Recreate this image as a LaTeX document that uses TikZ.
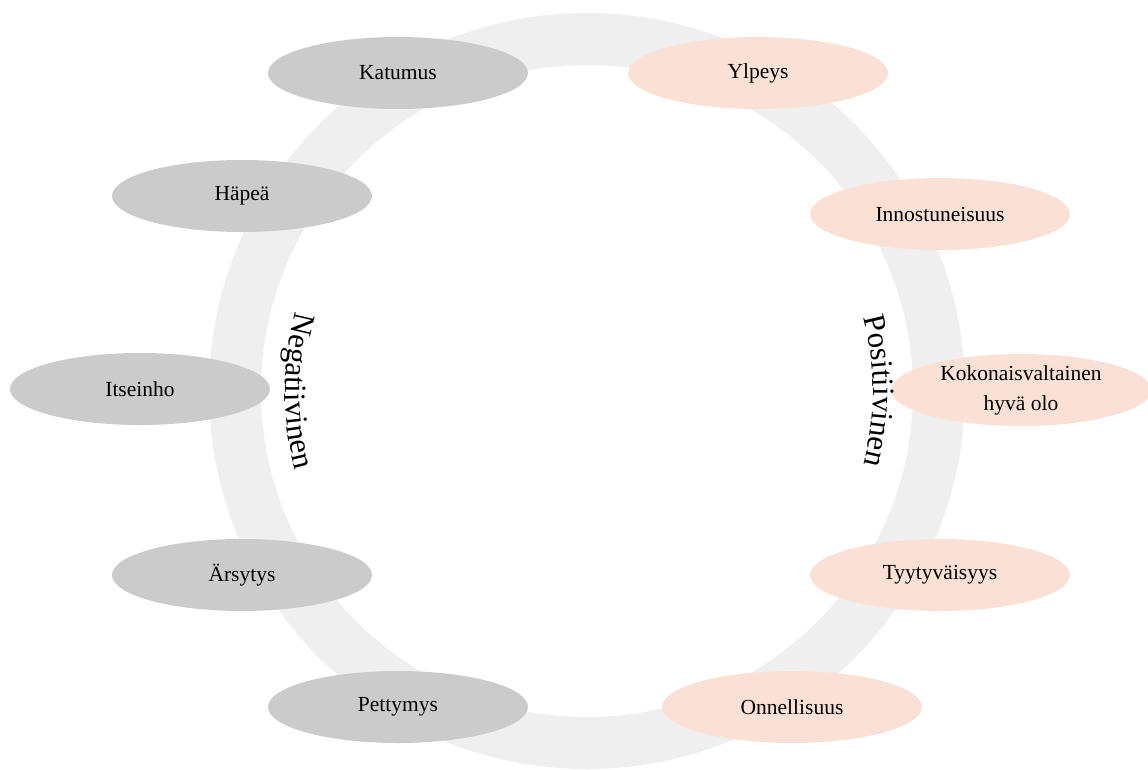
\documentclass[tikz,border=0pt]{standalone}
\usepackage{fontspec}
\setmainfont{Liberation Serif}
\usetikzlibrary{shapes.geometric,decorations.text}
\definecolor{ringgray}{HTML}{EFEFEF}
\definecolor{neggray}{HTML}{CBCBCB}
\definecolor{pospeach}{HTML}{FBE1D5}
\begin{document}
\begin{tikzpicture}[x=1pt, y=1pt,
  feeling/.style={ellipse, minimum width=260pt, minimum height=72pt, inner sep=0pt, align=center, font=\fontsize{21.5}{30}\selectfont},
  negfeel/.style={feeling, fill=neggray},
  posfeel/.style={feeling, fill=pospeach}]
\useasboundingbox (-587,-378) rectangle (561,391);
\draw[ringgray, line width=52pt] (0,0) circle (352);
% negative side
\node[negfeel] (katumus) at (-189,318) {Katumus};
\node[negfeel] (hapea) at (-345,195) {Häpeä};
\node[negfeel] (itseinho) at (-447,2) {Itseinho};
\node[negfeel] (arsytys) at (-345,-184) {Ärsytys};
\node[negfeel] (pettymys) at (-189,-316) {Pettymys};
% positive side
\node[posfeel] (ylpeys) at (171,318) {Ylpeys};
\node[posfeel] (innostus) at (353,177) {Innostuneisuus};
\node[posfeel] (hyvaolo) at (434,1) {Kokonaisvaltainen\\hyvä olo};
\node[posfeel] (tyytyvaisyys) at (353,-184) {Tyytyväisyys};
\node[posfeel] (onnellisuus) at (205,-316) {Onnellisuus};
% curved labels
\path[decorate, decoration={text along path, text align=center, text={|\fontsize{31}{31}\selectfont|Negatiivinen}}] (160:302) arc[start angle=160, end angle=200, radius=302];
\path[decorate, decoration={text along path, text align=center, text={|\fontsize{31}{31}\selectfont|Positiivinen}}] (20:286) arc[start angle=20, end angle=-20, radius=286];
\end{tikzpicture}
\end{document}
